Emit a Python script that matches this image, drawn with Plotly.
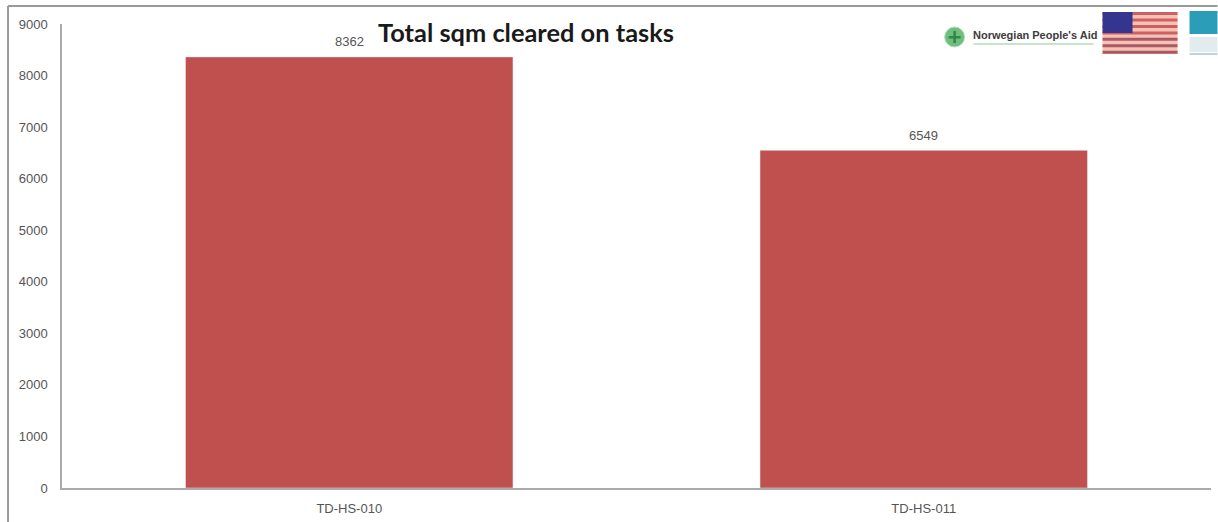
import plotly.graph_objects as go

categories = ["TD-HS-010", "TD-HS-011"]
values = [8362, 6549]
tick_values = list(range(0, 9001, 1000))
title_text = "Total sqm cleared on tasks"
logo_text = "Norwegian People's Aid"

W, H = 1218, 522
L, R, T, B = 62, 6.5, 24, 34


def px(x):
    return (x - L) / (W - L - R)


def py(y):
    return (H - B - y) / (H - T - B)


def box(x0, y0, x1, y1, fill):
    return dict(type="rect", xref="paper", yref="paper", x0=px(x0), x1=px(x1), y0=py(y0), y1=py(y1),
                fillcolor=fill, line=dict(width=0), layer="above")


def rule(x0, y0, x1, y1, color, width=1.5):
    return dict(type="line", xref="paper", yref="paper", x0=px(x0), x1=px(x1), y0=py(y0), y1=py(y1),
                line=dict(color=color, width=width), layer="above")


shapes = [rule(8, 6, W, 6, "#9a9a9a", 2), rule(8, 6, 8, H, "#9a9a9a", 2)]

# Norwegian People's Aid emblem
shapes.append(dict(type="circle", xref="paper", yref="paper", x0=px(945), x1=px(965), y0=py(47), y1=py(27),
                   fillcolor="#6FBE7E", line=dict(color="#B5DFBC", width=1), layer="above"))
shapes += [box(949, 36, 961, 38.5, "#2F8A45"), box(953.7, 31, 956.3, 43, "#2F8A45")]
shapes.append(rule(974, 44, 1094, 44, "#C6E3CC", 2))

# flag
shapes.append(box(1103, 12, 1178, 54, "#F6C2B8"))
for i in range(7):
    top = 12 + i * 6.46
    shapes.append(box(1103, top, 1178, top + 3.0, "#CC5F5F" if i < 4 else "#A85A60"))
shapes.append(box(1103, 12, 1133, 33, "#33358F"))

# partner logo at the right edge
shapes += [box(1190, 11, W, 34, "#2C9DB8"), box(1190, 37, W, 52, "#E2ECEE"), rule(1190, 54, W, 54, "#A9C6CC", 1.5)]

annotations = [
    dict(x=c, y=v, text=str(v), showarrow=False, yanchor="middle", yshift=15,
         font=dict(family="Liberation Sans", size=13, color="#555555"))
    for c, v in zip(categories, values)
]
annotations.append(dict(text=f"<b>{logo_text}</b>", xref="paper", yref="paper", x=px(1035), y=py(35),
                        showarrow=False, xanchor="center", yanchor="middle",
                        font=dict(family="Liberation Sans", size=11, color="#3c3c3c")))

fig = go.Figure(go.Bar(x=categories, y=values, marker_color="#C0504D", width=0.57))
fig.update_layout(
    width=W, height=H, margin=dict(l=L, r=R, t=T, b=B),
    paper_bgcolor="white", plot_bgcolor="white", showlegend=False,
    font=dict(family="Liberation Sans", size=13, color="#555555"),
    title=dict(text=f"<b>{title_text}</b>", x=526 / W, y=1 - 33 / H, xanchor="center", yanchor="middle",
               font=dict(family="Lato", size=25.4, color="#1a1a1a")),
    shapes=shapes, annotations=annotations,
)
fig.update_xaxes(showline=True, linecolor="#ababab", linewidth=1.5, ticks="", ticklabelstandoff=8)
fig.update_yaxes(range=[0, 9000], tickvals=tick_values, showgrid=False, showline=True, linecolor="#ababab",
                 linewidth=1.5, ticks="", zeroline=False, ticklabelstandoff=10)
fig.write_html("out.html", config={"displayModeBar": False},
               post_script="document.body.style.margin='0';document.body.style.overflow='hidden';window.dispatchEvent(new Event('resize'));")
